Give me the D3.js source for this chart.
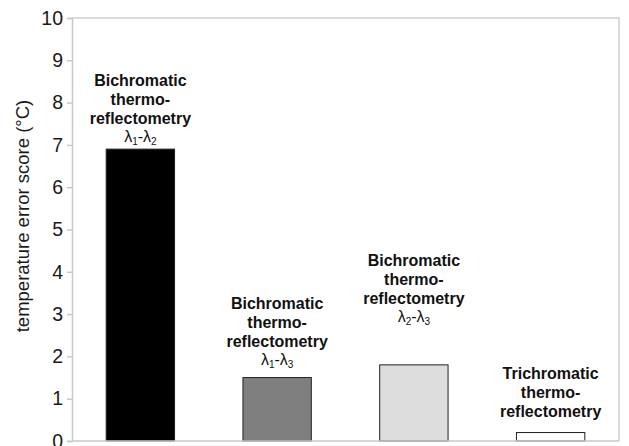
<!DOCTYPE html>
<html>
<head>
<meta charset="utf-8">
<script src="https://cdn.jsdelivr.net/npm/d3@7"></script>
<style>
  body { margin: 0; background: #fff; }
  svg { display: block; font-family: "Liberation Sans", Arial, sans-serif; }
</style>
</head>
<body>
<svg id="chart" width="629" height="446"></svg>
<script>
// chart values
var categories = ["bi12", "bi13", "bi23", "tri"];
var errorScore = [6.9, 1.5, 1.8, 0.2];
var barFill = ["#000000", "#7f7f7f", "#dddddd", "#ffffff"];
var labelLines = [
    ["Bichromatic", "thermo-", "reflectometry"],
    ["Bichromatic", "thermo-", "reflectometry"],
    ["Bichromatic", "thermo-", "reflectometry"],
    ["Trichromatic", "thermo-", "reflectometry"]
];
var labelLambda = [["1", "2"], ["1", "3"], ["2", "3"], null];
// value (y units) where the first label line sits
var labelAt = [8.53, 3.26, 4.26, 1.6];
var yTicks = [0, 1, 2, 3, 4, 5, 6, 7, 8, 9, 10];

function render() {
    var svg = d3.select("#chart");
    var plotLeft = 72, plotRight = 619, plotTop = 18, plotBottom = 441;

    var xs = d3.scaleBand().domain(categories)
        .range([plotLeft, plotRight])
        .paddingInner(0.5)
        .paddingOuter(0.25);

    var ys = d3.scaleLinear().domain([0, 10]).range([plotBottom, plotTop]);

    // frame (top and right)
    svg.append("path")
        .attr("d", "M" + plotLeft + "," + plotTop + "H" + plotRight + "V" + plotBottom)
        .attr("fill", "none")
        .attr("stroke", "#d0d0d0")
        .attr("stroke-width", 1.5);

    // bars
    svg.append("g")
        .selectAll("rect")
        .data(categories)
        .enter()
        .append("rect")
            .attr("x", function(d) { return xs(d); })
            .attr("width", xs.bandwidth())
            .attr("y", function(d, i) { return ys(errorScore[i]); })
            .attr("height", function(d, i) { return ys(0) - ys(errorScore[i]); })
            .attr("fill", function(d, i) { return barFill[i]; })
            .attr("stroke", "#222")
            .attr("stroke-width", 1);

    // y axis
    var yAxis = d3.axisLeft(ys)
        .tickValues(yTicks)
        .tickSize(5)
        .tickPadding(4)
        .tickFormat(d3.format("d"));

    var yg = svg.append("g")
        .attr("transform", "translate(" + plotLeft + ",0)")
        .call(yAxis);
    yg.select(".domain").attr("stroke", "#c8c8c8").attr("stroke-width", 1.5);
    yg.selectAll(".tick line").attr("stroke", "#c8c8c8").attr("stroke-width", 1.5);
    yg.selectAll(".tick text")
        .attr("font-size", 19.5)
        .attr("font-family", "Liberation Sans, Arial, sans-serif")
        .attr("fill", "#1a1a1a");

    // x baseline
    svg.append("line")
        .attr("x1", plotLeft).attr("x2", plotRight)
        .attr("y1", ys(0)).attr("y2", ys(0))
        .attr("stroke", "#c8c8c8")
        .attr("stroke-width", 1.5);

    // y title
    svg.append("text")
        .attr("transform", "translate(29,216) rotate(-90)")
        .attr("text-anchor", "middle")
        .attr("font-size", 18.5)
        .attr("fill", "#1a1a1a")
        .text("temperature error score (\u00B0C)");

    // bar labels
    var lineH = 19;
    categories.forEach(function(c, i) {
        var cx = xs(c) + xs.bandwidth() / 2;
        var y0 = ys(labelAt[i]) + 5.5;
        var t = svg.append("text")
            .attr("text-anchor", "middle")
            .attr("font-size", 16)
            .attr("font-weight", "bold")
            .attr("fill", "#111");
        labelLines[i].forEach(function(s, k) {
            t.append("tspan").attr("x", cx).attr("y", y0 + k * lineH).text(s);
        });
        if (labelLambda[i]) {
            var lt = svg.append("text")
                .attr("x", cx)
                .attr("y", y0 + 3 * lineH - 1)
                .attr("text-anchor", "middle")
                .attr("font-size", 16)
                .attr("fill", "#111");
            lt.append("tspan").text("\u03BB");
            lt.append("tspan").attr("font-size", 10).attr("dy", 3).text(labelLambda[i][0]);
            lt.append("tspan").attr("dy", -3).text("-\u03BB");
            lt.append("tspan").attr("font-size", 10).attr("dy", 3).text(labelLambda[i][1]);
        }
    });
}

render();
</script>
</body>
</html>
